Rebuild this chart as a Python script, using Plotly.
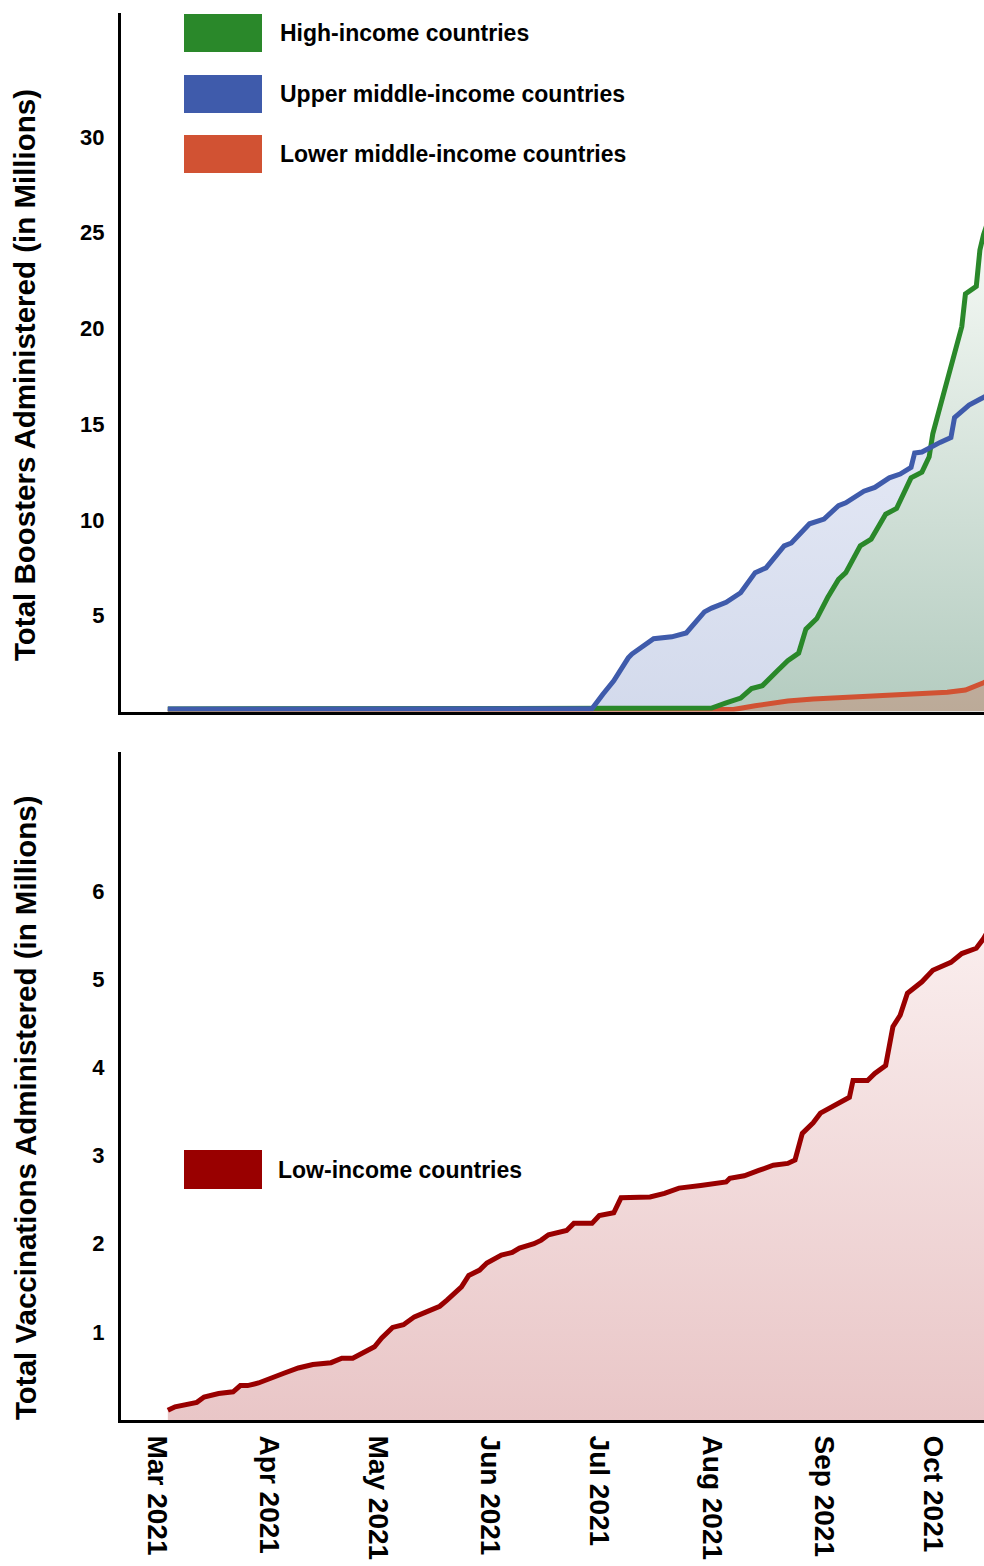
import plotly.graph_objects as go

# ---------------- data (millions) ----------------
high_dates = ["2021-03-04", "2021-06-30", "2021-07-31", "2021-08-01", "2021-08-05", "2021-08-09",
              "2021-08-12", "2021-08-15", "2021-08-19", "2021-08-22", "2021-08-25", "2021-08-27",
              "2021-08-30", "2021-09-02", "2021-09-05", "2021-09-07", "2021-09-11", "2021-09-14",
              "2021-09-18", "2021-09-21", "2021-09-25", "2021-09-28", "2021-09-30", "2021-10-01",
              "2021-10-03", "2021-10-04", "2021-10-06", "2021-10-09", "2021-10-10", "2021-10-13",
              "2021-10-14", "2021-10-15", "2021-10-17"]
high_vals = [0.13, 0.14, 0.15, 0.18, 0.45, 0.7,
             1.2, 1.35, 2.1, 2.65, 3.05, 4.3,
             4.85, 5.95, 6.9, 7.25, 8.65, 9.0,
             10.3, 10.6, 12.2, 12.5, 13.3, 14.5,
             15.9, 16.6, 18.2, 20.1, 21.8, 22.2,
             24.1, 24.9, 26.0]

upper_dates = ["2021-03-04", "2021-06-29", "2021-07-02", "2021-07-05", "2021-07-09", "2021-07-10",
               "2021-07-16", "2021-07-21", "2021-07-25", "2021-07-30", "2021-08-01", "2021-08-05",
               "2021-08-09", "2021-08-13", "2021-08-16", "2021-08-21", "2021-08-23", "2021-08-28",
               "2021-09-01", "2021-09-05", "2021-09-07", "2021-09-12", "2021-09-15", "2021-09-19",
               "2021-09-22", "2021-09-25", "2021-09-26", "2021-09-28", "2021-10-03", "2021-10-06",
               "2021-10-07", "2021-10-11", "2021-10-14", "2021-10-17"]
upper_vals = [0.13, 0.14, 0.9, 1.6, 2.8, 3.0,
              3.8, 3.9, 4.1, 5.2, 5.4, 5.7,
              6.2, 7.25, 7.5, 8.65, 8.8, 9.8,
              10.05, 10.75, 10.9, 11.5, 11.7, 12.2,
              12.4, 12.75, 13.5, 13.55, 14.05, 14.3,
              15.35, 16.0, 16.3, 16.6]

lower_dates = ["2021-03-04", "2021-08-07", "2021-08-13", "2021-08-22", "2021-08-29", "2021-09-12",
               "2021-09-26", "2021-10-01", "2021-10-05", "2021-10-10", "2021-10-12", "2021-10-15",
               "2021-10-17"]
lower_vals = [0.1, 0.1, 0.3, 0.55, 0.65, 0.77,
              0.9, 0.95, 1.0, 1.12, 1.25, 1.5,
              1.7]

low_dates = ["2021-03-04", "2021-03-06", "2021-03-12", "2021-03-14", "2021-03-18", "2021-03-22",
             "2021-03-24", "2021-03-26", "2021-03-29", "2021-04-03", "2021-04-05", "2021-04-09",
             "2021-04-13", "2021-04-18", "2021-04-21", "2021-04-24", "2021-04-27", "2021-04-30",
             "2021-05-02", "2021-05-05", "2021-05-08", "2021-05-11", "2021-05-14", "2021-05-18",
             "2021-05-20", "2021-05-24", "2021-05-26", "2021-05-29", "2021-05-31", "2021-06-04",
             "2021-06-07", "2021-06-09", "2021-06-13", "2021-06-15", "2021-06-17", "2021-06-22",
             "2021-06-24", "2021-06-29", "2021-07-01", "2021-07-05", "2021-07-07", "2021-07-15",
             "2021-07-19", "2021-07-23", "2021-07-29", "2021-08-05", "2021-08-06", "2021-08-10",
             "2021-08-14", "2021-08-18", "2021-08-22", "2021-08-24", "2021-08-26", "2021-08-29",
             "2021-08-31", "2021-09-03", "2021-09-05", "2021-09-08", "2021-09-09", "2021-09-13",
             "2021-09-15", "2021-09-18", "2021-09-20", "2021-09-22", "2021-09-24", "2021-09-26",
             "2021-09-28", "2021-10-01", "2021-10-04", "2021-10-06", "2021-10-09", "2021-10-13",
             "2021-10-15", "2021-10-17"]
low_vals = [0.11, 0.15, 0.2, 0.26, 0.30, 0.32,
            0.39, 0.39, 0.42, 0.49, 0.53, 0.59,
            0.63, 0.65, 0.70, 0.70, 0.77, 0.83,
            0.93, 1.05, 1.08, 1.17, 1.22, 1.29,
            1.36, 1.51, 1.64, 1.70, 1.78, 1.87,
            1.90, 1.95, 2.0, 2.04, 2.10, 2.15,
            2.23, 2.23, 2.32, 2.35, 2.52, 2.53,
            2.57, 2.63, 2.66, 2.70, 2.74, 2.77,
            2.83, 2.89, 2.91, 2.95, 3.25, 3.37,
            3.48, 3.55, 3.59, 3.66, 3.85, 3.85,
            3.93, 4.02, 4.46, 4.59, 4.84, 4.91,
            4.97, 5.10, 5.15, 5.19, 5.29, 5.35,
            5.46, 5.6]

month_ticks = ["2021-03-01", "2021-04-01", "2021-05-01", "2021-06-01",
               "2021-07-01", "2021-08-01", "2021-09-01", "2021-10-01"]
month_labels = ["Mar 2021", "Apr 2021", "May 2021", "Jun 2021",
                "Jul 2021", "Aug 2021", "Sep 2021", "Oct 2021"]
top_ticks = [5, 10, 15, 20, 25, 30]
bottom_ticks = [1, 2, 3, 4, 5, 6]

top_names = ["High-income countries", "Upper middle-income countries", "Lower middle-income countries"]
top_colors = ["#2a882a", "#3f5bab", "#d15233"]
low_name = "Low-income countries"
low_color = "#990000"

FONT = "Liberation Sans, Arial, Helvetica, sans-serif"

# ---------------- geometry ----------------
W, H = 984, 1566
ML, MR, MT, MB = 121, 0, 13, 146
PW, PH = W - ML - MR, H - MT - MB


def px_x(px):
    return (px - ML) / PW


def px_y(py):
    return (H - MB - py) / PH


top_dom = [px_y(711.5), 1.0]
bot_dom = [0.0, px_y(752)]

fig = go.Figure()

# fills (drawn first)
fig.add_trace(go.Scatter(x=upper_dates, y=upper_vals, mode="lines", line=dict(width=0, color=top_colors[1]),
                         fill="tozeroy",
                         fillgradient=dict(type="vertical",
                                           colorscale=[[0, "rgb(211,218,236)"], [1, "rgb(230,234,246)"]]),
                         xaxis="x", yaxis="y", hoverinfo="skip", showlegend=False))
fig.add_trace(go.Scatter(x=high_dates, y=high_vals, mode="lines", line=dict(width=0, color=top_colors[0]),
                         fill="tozeroy",
                         fillgradient=dict(type="vertical",
                                           colorscale=[[0, "rgb(180,204,192)"], [1, "rgb(248,251,247)"]]),
                         xaxis="x", yaxis="y", hoverinfo="skip", showlegend=False))
fig.add_trace(go.Scatter(x=lower_dates, y=lower_vals, mode="lines", line=dict(width=0, color=top_colors[2]),
                         fill="tozeroy", fillcolor="rgba(209,82,51,0.28)",
                         xaxis="x", yaxis="y", hoverinfo="skip", showlegend=False))
fig.add_trace(go.Scatter(x=low_dates, y=low_vals, mode="lines", line=dict(width=0, color=low_color),
                         fill="tozeroy",
                         fillgradient=dict(type="vertical",
                                           colorscale=[[0, "rgb(233,198,199)"], [1, "rgb(250,238,238)"]]),
                         xaxis="x2", yaxis="y2", hoverinfo="skip", showlegend=False))

# lines
fig.add_trace(go.Scatter(x=lower_dates, y=lower_vals, mode="lines", name=top_names[2],
                         line=dict(width=5, color=top_colors[2]), xaxis="x", yaxis="y", showlegend=False))
fig.add_trace(go.Scatter(x=high_dates, y=high_vals, mode="lines", name=top_names[0],
                         line=dict(width=5, color=top_colors[0]), xaxis="x", yaxis="y", showlegend=False))
fig.add_trace(go.Scatter(x=upper_dates, y=upper_vals, mode="lines", name=top_names[1],
                         line=dict(width=5, color=top_colors[1]), xaxis="x", yaxis="y", showlegend=False))
fig.add_trace(go.Scatter(x=low_dates, y=low_vals, mode="lines", name=low_name,
                         line=dict(width=5, color=low_color), xaxis="x2", yaxis="y2", showlegend=False))

xrange = ["2021-02-19 02:00", "2021-10-15 03:00"]
axis_common = dict(showline=True, linecolor="black", linewidth=3, showgrid=False, zeroline=False,
                   ticks="", mirror=False)

fig.update_layout(
    width=W, height=H,
    margin=dict(l=ML, r=MR, t=MT, b=MB),
    paper_bgcolor="white", plot_bgcolor="white",
    font=dict(family=FONT, color="black"),
    xaxis=dict(domain=[0, 1], anchor="y", type="date", range=xrange, showticklabels=False, **axis_common),
    yaxis=dict(domain=top_dom, anchor="x", range=[0, 36.47], tickvals=top_ticks,
               tickfont=dict(size=22, family=FONT, weight="bold"), ticklabelstandoff=9, **axis_common),
    xaxis2=dict(domain=[0, 1], anchor="y2", type="date", range=xrange, matches="x",
                tickvals=month_ticks, ticktext=month_labels, tickangle=90,
                tickfont=dict(size=28, family=FONT, weight="bold"), ticklabelstandoff=7, **axis_common),
    yaxis2=dict(domain=bot_dom, anchor="x2", range=[0, 7.576], tickvals=bottom_ticks,
                tickfont=dict(size=22, family=FONT, weight="bold"), ticklabelstandoff=9, **axis_common),
)

# custom legends
shapes = []
annotations = []
legend_rows_y = [33, 94, 154]
for name, color, cy in zip(top_names, top_colors, legend_rows_y):
    shapes.append(dict(type="rect", xref="paper", yref="paper", x0=px_x(184), x1=px_x(262),
                       y0=px_y(cy + 19), y1=px_y(cy - 19), fillcolor=color, line=dict(width=0)))
    annotations.append(dict(text=name, xref="paper", yref="paper", x=px_x(278), y=px_y(cy),
                            xanchor="left", yanchor="middle", showarrow=False,
                            font=dict(size=23, family=FONT, weight="bold", color="black")))
shapes.append(dict(type="rect", xref="paper", yref="paper", x0=px_x(184), x1=px_x(262),
                   y0=px_y(1189), y1=px_y(1150), fillcolor=low_color, line=dict(width=0)))
annotations.append(dict(text=low_name, xref="paper", yref="paper", x=px_x(276), y=px_y(1170),
                        xanchor="left", yanchor="middle", showarrow=False,
                        font=dict(size=23, family=FONT, weight="bold", color="black")))

# y-axis titles
annotations.append(dict(text="Total Boosters Administered (in Millions)", xref="paper", yref="paper",
                        x=px_x(25), y=px_y(375), textangle=-90, showarrow=False,
                        xanchor="center", yanchor="middle",
                        font=dict(size=29.5, family=FONT, weight="bold", color="black")))
annotations.append(dict(text="Total Vaccinations Administered (in Millions)", xref="paper", yref="paper",
                        x=px_x(25), y=px_y(1108), textangle=-90, showarrow=False,
                        xanchor="center", yanchor="middle",
                        font=dict(size=29.5, family=FONT, weight="bold", color="black")))

fig.update_layout(shapes=shapes, annotations=annotations)

fig.write_html("out.html",
               config={"displayModeBar": False},
               post_script="document.body.style.margin='0';document.body.style.padding='0';"
                           "document.body.style.overflow='hidden';")
